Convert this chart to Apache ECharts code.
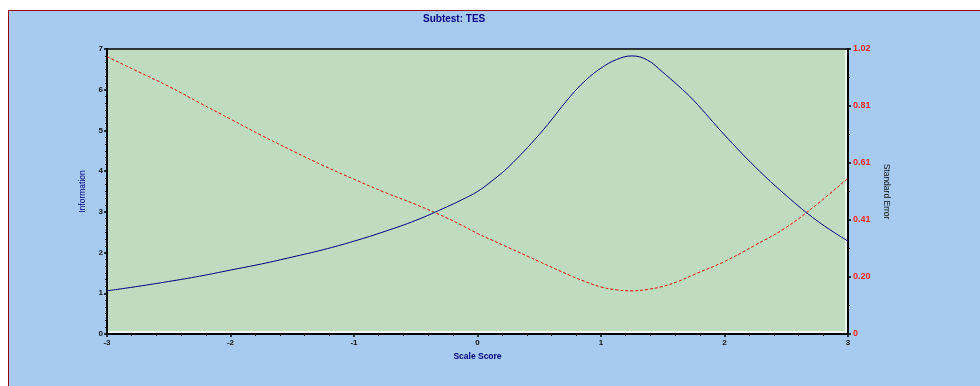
<!DOCTYPE html>
<html>
<head>
<meta charset="utf-8">
<title>Subtest: TES</title>
<script src="https://cdn.jsdelivr.net/npm/echarts@6/dist/echarts.min.js"></script>
<style>
  html, body { margin: 0; padding: 0; background: #ffffff; width: 980px; height: 386px; overflow: hidden; }
  #panel { position: absolute; left: 8px; top: 10px; width: 990px; height: 390px; background: #A6CAF0; border: 1px solid #990000; }
  #chart { position: absolute; left: 0; top: 0; width: 980px; height: 386px; }
</style>
</head>
<body>
<div id="panel"></div>
<div id="chart"></div>
<script>
// Scale score grid (theta) at which both curves are sampled
const theta = [-3, -2.75, -2.5, -2.25, -2, -1.75, -1.5, -1.25, -1, -0.75, -0.5, -0.25, -0.125,
               0, 0.125, 0.25, 0.5, 0.75, 0.875, 1, 1.125, 1.25, 1.375, 1.5, 1.625, 1.75,
               2, 2.25, 2.5, 2.75, 3];

// Test information function
const information = [1.06, 1.17, 1.29, 1.42, 1.57, 1.72, 1.89, 2.07, 2.28, 2.52, 2.79, 3.12, 3.30,
                     3.50, 3.78, 4.10, 4.90, 5.83, 6.23, 6.53, 6.74, 6.83, 6.73, 6.43, 6.10, 5.74,
                     4.89, 4.10, 3.40, 2.78, 2.28];

// Conditional standard error of measurement
const standardError = [0.991, 0.938, 0.885, 0.826, 0.768, 0.710, 0.655, 0.602, 0.553, 0.506, 0.463, 0.415, 0.388,
                       0.359, 0.334, 0.309, 0.259, 0.209, 0.187, 0.168, 0.158, 0.154, 0.159, 0.170, 0.188, 0.212,
                       0.259, 0.318, 0.381, 0.464, 0.557];

// Axis ranges
const xTicks = [-3, -2, -1, 0, 1, 2, 3];
const infoMax = 7;
const seMax = 1.0185;
const seStep = seMax / 5;

const font = '"Liberation Sans", Arial, sans-serif';
const toPairs = (xs, ys) => xs.map((x, i) => [x, ys[i]]);

const chart = echarts.init(document.getElementById('chart'), null, { renderer: 'canvas' });

const yAxisCommon = {
  type: 'value',
  nameLocation: 'middle',
  axisLine: { show: true, onZero: false, lineStyle: { color: '#000000', width: 2 } },
  axisTick: { show: true, inside: false, length: 3, lineStyle: { color: '#000000', width: 1.5 } },
  splitLine: { show: false },
  minorSplitLine: { show: false }
};

chart.setOption({
  animation: false,
  backgroundColor: 'transparent',
  title: {
    text: 'Subtest: TES',
    left: 423,
    top: 14,
    padding: 0,
    textStyle: { fontFamily: font, fontSize: 10, fontWeight: 'bold', color: '#000080' }
  },
  grid: {
    left: 107, top: 49, width: 741, height: 285,
    show: true,
    backgroundColor: '#C0DCC0',
    borderColor: '#000000',
    borderWidth: 1.5,
    containLabel: false,
    outerBoundsMode: 'none'
  },
  xAxis: {
    type: 'value',
    min: xTicks[0],
    max: xTicks[xTicks.length - 1],
    interval: 1,
    name: 'Scale Score',
    nameLocation: 'middle',
    nameGap: 18,
    nameTextStyle: { fontFamily: font, fontSize: 8.5, fontWeight: 'bold', color: '#000080' },
    axisLine: { show: true, onZero: false, lineStyle: { color: '#000000', width: 2 } },
    axisTick: { show: true, inside: false, length: 3, lineStyle: { color: '#000000', width: 1.5 } },
    minorTick: { show: true, splitNumber: 5, length: 2, lineStyle: { color: '#000000', width: 1 } },
    axisLabel: { margin: 5, fontFamily: font, fontSize: 8, fontWeight: 'bold', color: '#111111' },
    splitLine: { show: false },
    minorSplitLine: { show: false }
  },
  yAxis: [
    Object.assign({}, yAxisCommon, {
      position: 'left',
      min: 0,
      max: infoMax,
      interval: 1,
      name: 'Information',
      nameRotate: 90,
      nameGap: 17,
      nameTextStyle: { fontFamily: font, fontSize: 8.5, color: '#000080' },
      minorTick: { show: true, splitNumber: 6, length: 2, lineStyle: { color: '#000000', width: 1 } },
      axisLabel: { margin: 4, fontFamily: font, fontSize: 8, fontWeight: 'bold', color: '#111111' }
    }),
    Object.assign({}, yAxisCommon, {
      position: 'right',
      min: 0,
      max: seMax,
      interval: seStep,
      name: 'Standard Error',
      nameRotate: -90,
      nameGap: 30,
      nameTextStyle: { fontFamily: font, fontSize: 8.5, color: '#111111' },
      minorTick: { show: true, splitNumber: 2, length: 2, lineStyle: { color: '#000000', width: 1 } },
      axisLabel: {
        margin: 5, fontFamily: font, fontSize: 9, fontWeight: 'bold', color: '#ff2020',
        formatter: v => (Math.abs(v) < 1e-9 ? '0' : v.toFixed(2))
      }
    })
  ],
  series: [
    {
      name: 'Information',
      type: 'line',
      yAxisIndex: 0,
      data: toPairs(theta, information),
      smooth: 0.4,
      showSymbol: false,
      lineStyle: { color: '#000080', width: 1 },
      z: 3
    },
    {
      name: 'Standard Error',
      type: 'line',
      yAxisIndex: 1,
      data: toPairs(theta, standardError),
      smooth: 0.4,
      showSymbol: false,
      lineStyle: { color: '#ff0000', width: 1, type: [3, 2] },
      z: 2
    }
  ]
});

// Light bevel along the inner bottom and right edges of the plot frame
const bl = chart.convertToPixel({ xAxisIndex: 0, yAxisIndex: 0 }, [xTicks[0], 0]);
const tr = chart.convertToPixel({ xAxisIndex: 0, yAxisIndex: 0 }, [xTicks[xTicks.length - 1], infoMax]);
chart.setOption({
  graphic: [
    { type: 'polyline', z: 1, silent: true,
      shape: { points: [[bl[0] + 1, bl[1] - 2], [tr[0] - 2, bl[1] - 2], [tr[0] - 2, tr[1] + 1]] },
      style: { stroke: '#ffffff', lineWidth: 1.5, fill: null } }
  ]
});
</script>
</body>
</html>
